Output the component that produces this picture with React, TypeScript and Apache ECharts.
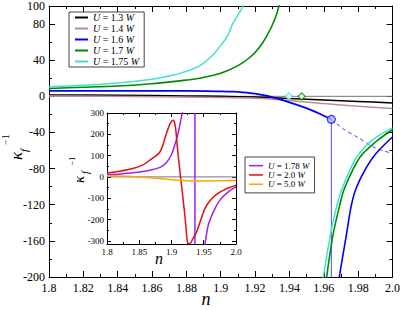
import React, { useEffect, useRef } from "react";
import * as echarts from "echarts";

const FONT = "'Liberation Serif', 'Times New Roman', serif";

// legend names
const mainNames = ["U = 1.3 W", "U = 1.4 W", "U = 1.6 W", "U = 1.7 W", "U = 1.75 W"];
const insetNames = ["U = 1.78 W", "U = 2.0 W", "U = 5.0 W"];

// main plot data
const zeroLine = [[1.8, 0], [2.0, 0]];
const u13 = [[1.8, 1.5], [1.84, 1.2], [1.88, 0.5], [1.9, 0], [1.92, -0.8], [1.94, -2.3], [1.96, -4], [1.98, -5.7], [2.0, -7.3]];
const u14 = [[1.8, 0.5], [1.85, -0.2], [1.9, -1.2], [1.92, -2], [1.94, -4.5], [1.96, -8], [1.98, -11], [2.0, -13.5]];
const u16 = [[1.8, 6], [1.84, 6], [1.88, 6], [1.9, 5.5], [1.907, 5.1], [1.917, 3.6], [1.9266, 0.7], [1.9382, -5.5], [1.9498, -13], [1.9576, -19.3], [1.9644, -25.5]];
const u16Dashed = [[1.9644, -25.5], [1.9711, -35.7], [1.9808, -46.6], [1.9905, -57.6], [2.0, -63]];
const u16Drop = [[1.9644, -25.5], [1.9644, -200]];
const u16Point = [[1.9644, -25.5]];
const u16Lower = [[1.9685, -210], [1.9692, -198], [1.9731, -154], [1.976, -121], [1.979, -101], [1.9847, -79], [1.9905, -63], [2.0, -45]];
const u17 = [[1.8, 8.7], [1.82, 10], [1.84, 11.5], [1.86, 14], [1.88, 18], [1.8878, 20], [1.9, 25.5], [1.91, 34], [1.9169, 43], [1.922, 53], [1.9266, 66], [1.9314, 85], [1.9343, 103], [1.936, 120]];
const u17Lower = [[1.9612, -210], [1.9618, -198], [1.9653, -154], [1.9692, -121], [1.972, -102], [1.9808, -68], [1.9905, -50], [2.0, -37]];
const u17Diamond = [[1.9471, 0]];
const u175 = [[1.8, 10.5], [1.82, 12.2], [1.84, 14.8], [1.86, 19], [1.87, 22.5], [1.88, 27.6], [1.8878, 34], [1.895, 45], [1.8994, 55], [1.904, 67], [1.9071, 81], [1.91, 90], [1.913, 100], [1.915, 110]];
const u175Lower = [[1.9594, -210], [1.9599, -198], [1.9638, -154], [1.9676, -121], [1.9711, -100], [1.9789, -68], [1.9886, -48], [2.0, -35]];
const u175Diamond = [[1.9397, 0]];

// inset data
const u178Upper = [[1.8, 11], [1.82, 14], [1.84, 19], [1.866, 31], [1.882, 45], [1.8923, 68], [1.9, 105], [1.905, 149], [1.909, 190], [1.9129, 243], [1.919, 337]];
const u178Pole = [[1.9363, 300], [1.9363, -315]];
const u178Lower = [[1.951, -330], [1.952, -313], [1.957, -227], [1.965, -164], [1.975, -109], [1.988, -70], [2.0, -47]];
const u20 = [[1.8, 19], [1.82, 27], [1.84, 39], [1.855, 55], [1.866, 78], [1.882, 117], [1.8923, 205], [1.897, 245], [1.9, 260], [1.9026, 266], [1.9045, 258], [1.9065, 225], [1.9093, 133], [1.914, 0], [1.9207, -180], [1.924, -290], [1.9259, -313], [1.929, -313], [1.933, -290], [1.939, -258], [1.945, -205], [1.952, -148], [1.958, -118], [1.965, -94], [1.972, -77], [1.981, -62], [1.99, -50], [2.0, -39]];
const u50 = [[1.8, 5], [1.83, 3], [1.85, 0], [1.87, -5], [1.882, -8], [1.9, -13], [1.92, -17], [1.931, -19], [1.95, -19], [1.975, -18], [2.0, -17]];

const insetYMajor = [-300, -200, -100, 0, 100, 200, 300];
const insetYMinor = [-250, -150, -50, 50, 150, 250];

const C = {
  black: "#000000",
  brown: "#bc8f8f",
  blue: "#0000ff",
  lightBlue: "#4a4aff",
  green: "#008b00",
  cyan: "#40e0d0",
  purple: "#a020f0",
  red: "#e01010",
  orange: "#ffa500",
  zero: "#777777",
};

const fmtX = (v: number) => {
  const s = String(Math.round(v * 100) / 100);
  return s === "2" ? "2.0" : s;
};

const legendFmt = (name: string) => {
  const num = name.replace("U = ", "").replace(" W", "");
  return `{i|U}{r| = ${num} }{i|W}`;
};

function line(name: string, data: number[][], color: string, width: number, xi: number, yi: number, extra: any = {}) {
  return {
    type: "line",
    name,
    data,
    xAxisIndex: xi,
    yAxisIndex: yi,
    symbol: "none",
    showSymbol: false,
    clip: true,
    smooth: 0.3,
    lineStyle: { color, width },
    itemStyle: { color },
    emphasis: { disabled: true },
    ...extra,
  };
}

export default function App() {
  const ref = useRef<HTMLDivElement>(null);
  useEffect(() => {
    if (!ref.current) return;
    const chart = echarts.init(ref.current, undefined, { renderer: "svg" });
    const axisCommon = {
      type: "value",
      splitLine: { show: false },
      axisLine: { show: true, onZero: false, lineStyle: { color: "#000", width: 1 } },
    };
    const mainX = {
      ...axisCommon,
      gridIndex: 0,
      min: 1.8,
      max: 2.0,
      interval: 0.02,
      axisTick: { show: true, inside: true, length: 6, lineStyle: { color: "#000" } },
      minorTick: { show: true, splitNumber: 2, length: 3, lineStyle: { color: "#000" } },
    };
    const mainY = {
      ...axisCommon,
      gridIndex: 0,
      min: -200,
      max: 100,
      interval: 40,
      axisTick: { show: true, inside: true, length: 6, lineStyle: { color: "#000" } },
      minorTick: { show: true, splitNumber: 2, length: 3, lineStyle: { color: "#000" } },
    };
    const insetX = {
      ...axisCommon,
      gridIndex: 1,
      z: 11,
      min: 1.8,
      max: 2.0,
      interval: 0.05,
      axisTick: { show: true, inside: true, length: 4, lineStyle: { color: "#000" } },
      minorTick: { show: true, splitNumber: 2, length: 2, lineStyle: { color: "#000" } },
    };
    const insetY = {
      ...axisCommon,
      gridIndex: 1,
      z: 11,
      min: -315,
      max: 300,
    };
    const legendText = (size: number, lh: number) => ({
      fontFamily: FONT,
      fontSize: size,
      lineHeight: lh,
      color: "#000",
      rich: {
        i: { fontFamily: FONT, fontSize: size, fontStyle: "italic", lineHeight: lh, color: "#000" },
        r: { fontFamily: FONT, fontSize: size, lineHeight: lh, color: "#000" },
      },
    });
    const option: any = {
      animation: false,
      backgroundColor: "#fff",
      grid: [
        { left: 49, top: 3, width: 344, height: 274, containLabel: false },
        { left: 107, top: 113, width: 129, height: 131, show: true, backgroundColor: "#fff", borderWidth: 0, z: 5 },
      ],
      xAxis: [
        { ...mainX, position: "bottom", axisLabel: { show: true, formatter: fmtX, fontFamily: FONT, fontSize: 12, color: "#000", margin: 5 } },
        { ...mainX, position: "top", axisLabel: { show: false } },
        { ...insetX, position: "bottom", axisLabel: { show: true, formatter: fmtX, fontFamily: FONT, fontSize: 9, color: "#000", margin: 3 } },
        { ...insetX, position: "top", axisLabel: { show: false } },
      ],
      yAxis: [
        { ...mainY, position: "left", axisLabel: { show: true, fontFamily: FONT, fontSize: 12, color: "#000", margin: 4 } },
        { ...mainY, position: "right", axisLabel: { show: false } },
        {
          ...insetY,
          position: "left",
          axisTick: { show: true, inside: true, length: 4, customValues: insetYMajor, lineStyle: { color: "#000" } },
          axisLabel: { show: true, customValues: insetYMajor, fontFamily: FONT, fontSize: 9, color: "#000", margin: 3 },
        },
        {
          ...insetY,
          position: "right",
          axisTick: { show: true, inside: true, length: 4, customValues: insetYMajor, lineStyle: { color: "#000" } },
          axisLabel: { show: false, customValues: insetYMajor },
        },
        {
          ...insetY,
          position: "left",
          axisLine: { show: false },
          axisTick: { show: true, inside: true, length: 2, customValues: insetYMinor, lineStyle: { color: "#000" } },
          axisLabel: { show: false, customValues: insetYMinor },
        },
        {
          ...insetY,
          position: "right",
          axisLine: { show: false },
          axisTick: { show: true, inside: true, length: 2, customValues: insetYMinor, lineStyle: { color: "#000" } },
          axisLabel: { show: false, customValues: insetYMinor },
        },
      ],
      legend: [
        {
          data: mainNames,
          orient: "vertical",
          left: 69,
          top: 12,
          icon: "rect",
          itemWidth: 13,
          itemHeight: 2,
          itemGap: 0,
          padding: [0, 5, 0, 6],
          borderColor: "#444",
          borderWidth: 1,
          backgroundColor: "#fff",
          selectedMode: false,
          formatter: legendFmt,
          textStyle: legendText(10, 11),
        },
        {
          data: insetNames,
          orient: "vertical",
          left: 245,
          top: 157,
          icon: "rect",
          itemWidth: 14,
          itemHeight: 1.5,
          itemGap: 0,
          padding: [4, 5, 4, 4],
          borderColor: "#444",
          borderWidth: 1,
          backgroundColor: "#fff",
          selectedMode: false,
          formatter: legendFmt,
          textStyle: legendText(9, 9.3),
        },
      ],
      series: [
        line("zero", zeroLine, C.zero, 1, 0, 0, { z: 1, silent: true, smooth: false }),
        line(mainNames[0], u13, C.black, 1.5, 0, 0),
        line(mainNames[1], u14, C.brown, 1.5, 0, 0),
        line(mainNames[2], u16, C.blue, 1.8, 0, 0),
        line(mainNames[3], u17, C.green, 1.6, 0, 0),
        line(mainNames[4], u175, C.cyan, 1.5, 0, 0),
        line("blue dashed", u16Dashed, C.lightBlue, 1, 0, 0, { lineStyle: { color: C.lightBlue, width: 1, type: [4, 3] } }),
        line("blue drop", u16Drop, C.lightBlue, 1, 0, 0, { smooth: false }),
        line("blue lower", u16Lower, C.blue, 1.6, 0, 0),
        line("green lower", u17Lower, C.green, 1.6, 0, 0),
        line("cyan lower", u175Lower, C.cyan, 1.5, 0, 0),
        {
          type: "scatter", name: "blue point", data: u16Point, xAxisIndex: 0, yAxisIndex: 0,
          symbol: "circle", symbolSize: 8, z: 4,
          itemStyle: { color: "#b8b8ff", borderColor: C.blue, borderWidth: 1.2 },
        },
        {
          type: "scatter", name: "cyan diamond", data: u175Diamond, xAxisIndex: 0, yAxisIndex: 0,
          symbol: "diamond", symbolSize: 7, z: 4,
          itemStyle: { color: "#fff", borderColor: C.cyan, borderWidth: 1.2 },
        },
        {
          type: "scatter", name: "green diamond", data: u17Diamond, xAxisIndex: 0, yAxisIndex: 0,
          symbol: "diamond", symbolSize: 7, z: 4,
          itemStyle: { color: "#fff", borderColor: C.green, borderWidth: 1.2 },
        },
        line("inset zero", zeroLine, C.zero, 1, 2, 2, { z: 12, silent: true, smooth: false }),
        line(insetNames[0], u178Upper, C.purple, 1.5, 2, 2, { z: 13 }),
        line("purple pole", u178Pole, C.purple, 1.5, 2, 2, { z: 13, smooth: false }),
        line("purple lower", u178Lower, C.purple, 1.5, 2, 2, { z: 13 }),
        line(insetNames[1], u20, C.red, 1.5, 2, 2, { z: 13 }),
        line(insetNames[2], u50, C.orange, 1.5, 2, 2, { z: 13 }),
      ],
      graphic: [
        { type: "text", x: 16, y: 160, rotation: Math.PI / 2, z: 100, style: { text: "κ", fontFamily: FONT, fontStyle: "italic", fontSize: 17, fill: "#000", align: "left", verticalAlign: "middle" } },
        { type: "text", x: 24, y: 152, rotation: Math.PI / 2, z: 100, style: { text: "f", fontFamily: FONT, fontStyle: "italic", fontSize: 11, fill: "#000", align: "left", verticalAlign: "middle" } },
        { type: "text", x: 5, y: 145, rotation: Math.PI / 2, z: 100, style: { text: "−1", fontFamily: FONT, fontSize: 10, fill: "#000", align: "left", verticalAlign: "middle" } },
        { type: "text", x: 206, y: 299, z: 100, style: { text: "n", fontFamily: FONT, fontStyle: "italic", fontSize: 18, fill: "#000", align: "center", verticalAlign: "middle" } },
        { type: "text", x: 78.5, y: 183, rotation: Math.PI / 2, z: 100, style: { text: "κ", fontFamily: FONT, fontStyle: "italic", fontSize: 15, fill: "#000", align: "left", verticalAlign: "middle" } },
        { type: "text", x: 85, y: 174, rotation: Math.PI / 2, z: 100, style: { text: "f", fontFamily: FONT, fontStyle: "italic", fontSize: 10, fill: "#000", align: "left", verticalAlign: "middle" } },
        { type: "text", x: 72, y: 166, rotation: Math.PI / 2, z: 100, style: { text: "−1", fontFamily: FONT, fontSize: 9, fill: "#000", align: "left", verticalAlign: "middle" } },
        { type: "text", x: 159, y: 258, z: 100, style: { text: "n", fontFamily: FONT, fontStyle: "italic", fontSize: 16, fill: "#000", align: "center", verticalAlign: "middle" } },
      ],
    };
    chart.setOption(option);
    return () => chart.dispose();
  }, []);
  return <div ref={ref} style={{ position: "absolute", left: 0, top: 0, width: 403, height: 310 }} />;
}
